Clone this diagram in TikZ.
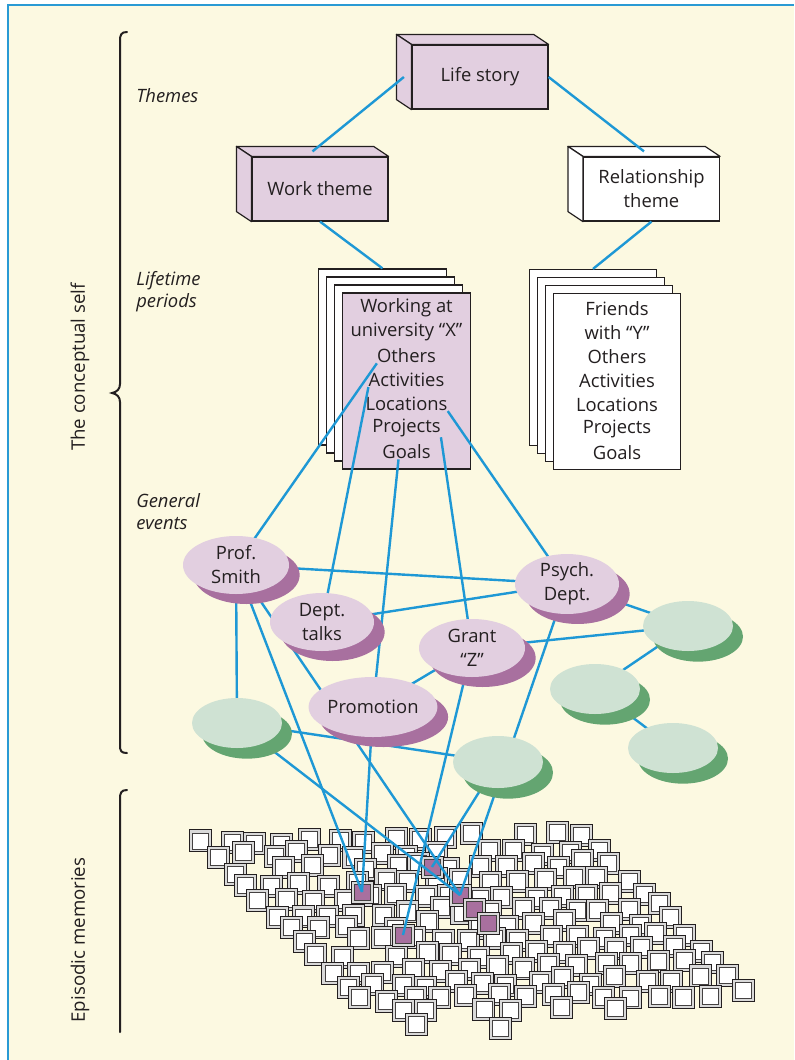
\documentclass[tikz,border=0pt]{standalone}
\usepackage{fontspec}
\setmainfont{Open Sans}
\usetikzlibrary{shapes.geometric,shadows,calc}

\definecolor{cream}{HTML}{FCF9E1}
\definecolor{framec}{HTML}{2A9AD4}
\definecolor{linkc}{HTML}{1E98D5}
\definecolor{mauve}{HTML}{E2CFE0}
\definecolor{plum}{HTML}{A8709F}
\definecolor{mint}{HTML}{CFE2D3}
\definecolor{leaf}{HTML}{64A571}
\definecolor{ink}{HTML}{231F20}

\pgfdeclarelayer{under}
\pgfdeclarelayer{wires}
\pgfsetlayers{under,wires,main}

\begin{document}
\begin{tikzpicture}[x=0.75pt, y=-0.75pt,
  font=\fontsize{13.8}{18}\selectfont, text=ink,
  themebox/.style={draw=ink, line width=0.9pt, minimum width=102pt, minimum height=48pt,
    inner sep=0pt, align=center},
  face/.style={draw=ink, line width=0.9pt, line join=round},
  sheet/.style={draw=ink, line width=0.9pt, fill=white, minimum width=95.5pt,
    minimum height=132pt, inner sep=0pt},
  word/.style={inner sep=0pt},
  event/.style={ellipse, fill=mauve, inner sep=0pt, minimum width=79.5pt,
    minimum height=43.5pt, align=center,
    general shadow={fill=plum, shadow xshift=8pt, shadow yshift=-7.5pt}},
  blank/.style={ellipse, fill=mint, inner sep=0pt, minimum width=67.5pt,
    minimum height=37.5pt,
    general shadow={fill=leaf, shadow xshift=7.5pt, shadow yshift=-8pt}},
  wire/.style={draw=linkc, line width=1.8pt},
  brace/.style={draw=ink, line width=1.5pt, line cap=round},
  level/.style={font=\fontsize{13.8}{16.5}\selectfont\itshape, anchor=west,
    inner sep=0pt, align=left},
  sidelabel/.style={font=\fontsize{14}{18}\selectfont, rotate=90, inner sep=0pt},
  cell/.style={fill=black!15, draw=ink, line width=0.55pt},
  cellin/.style={fill=white, draw=ink!85, line width=0.45pt},
  hot/.style={rectangle, draw=ink, line width=0.55pt, fill=black!15,
    minimum size=16.5pt, inner sep=0pt,
    path picture={\filldraw[fill=plum, draw=ink!85, line width=0.45pt]
      ([shift={(2.2pt,2.2pt)}]path picture bounding box.south west) rectangle
      ([shift={(-2.2pt,-2.2pt)}]path picture bounding box.north east);}}
]
\useasboundingbox (0,0) rectangle (794,1060);

\begin{pgfonlayer}{under}
  % page and frame
  \fill[white] (0,0) rectangle (794,1060);
  \fill[cream] (8,5) rectangle (794,1060);
  \draw[framec, line width=1.9pt] (8,1060) -- (8,5) -- (794,5);

  % braces on the left
  \draw[brace] (127,32) .. controls (121,32) and (120,35) .. (120,41)
    -- (120,384) .. controls (120,389) and (117,392) .. (112,393)
    .. controls (117,394) and (120,397) .. (120,402)
    -- (120,745) .. controls (120,751) and (121,753) .. (127,753);
  \draw[brace] (127,790) .. controls (121,790) and (120,793) .. (120,799)
    -- (120,1032);

  \node[sidelabel] (cself) at (80,367) {The conceptual self};
  \node[sidelabel] (epis) at (80,940) {Episodic memories};

  \node[level] (themes) at (136,96) {Themes};
  \node[level] (periods) at (136,292) {Lifetime\\periods};
  \node[level] (general) at (136,511.5) {General\\events};

  % field of episodic memory cells, laid out in diagonal chains
  \pgfmathsetseed{17}
  \foreach \i in {0,...,13} {
    \foreach \k in {0,...,14} {
      \pgfmathtruncatemacro\len{{12,14,13,12,14,13,12,13,12,13,12,12,13,12,12}[\k]}
      \pgfmathsetmacro\skip{(\k==0 || \k==14) ? 1 : rnd}
      \pgfmathsetmacro\px{192 + 27.2*\k + 14.3*\i + 4*rand}
      \pgfmathsetmacro\py{831 - 0.5*\k + 14.3*\i + 4*rand}
      \ifnum\i<\len
        \ifdim\skip pt>0.08pt
          \filldraw[cell] (\px,\py) rectangle ++(22,22);
          \filldraw[cellin] (\px+3,\py+3) rectangle ++(16,16);
        \fi
      \fi
    }
  }

  % activated memories
  \node[hot] (m1) at (362,892) {};
  \node[hot] (m2) at (403,935) {};
  \node[hot] (m3) at (432,867) {};
  \node[hot] (m4) at (460,895) {};
  \node[hot] (m5) at (474,909) {};
  \node[hot] (m6) at (488,923) {};

  % lifetime period stacks
  \node[sheet] (s1) at (382.5,357) {};
  \node[sheet] (s2) at (390.5,365) {};
  \node[sheet] (s3) at (398.5,373) {};
  \node[sheet, fill=mauve] (s4) at (406.5,381) {};
  \foreach \t [count=\j] in {Working at, university “X”, Others, Activities, Locations, Projects, Goals}
    \node[word] (lw\j) at (406.5,284+24*\j) {\t};

  \node[sheet] (r1) at (593,357.5) {};
  \node[sheet] (r2) at (601,365.5) {};
  \node[sheet] (r3) at (609,373.5) {};
  \node[sheet] (r4) at (617,381.5) {};
  \foreach \t [count=\j] in {Friends, with “Y”, Others, Activities, Locations, Projects, Goals}
    \node[word] (rw\j) at (617,285+24*\j) {\t};
\end{pgfonlayer}

% general events
\node[event] (smith) at (236,565) {Prof.\\Smith};
\node[event, minimum width=78pt] (talks) at (322,622) {Dept.\\talks};
\node[event, minimum width=78pt] (psych) at (567,584) {Psych.\\Dept.};
\node[event] (grant) at (472,648) {Grant\\“Z”};
\node[event, minimum width=82.5pt, minimum height=45pt] (promo) at (373,707) {Promotion};
\node[blank] (g1) at (688,626) {};
\node[blank] (g2) at (595,689) {};
\node[blank] (g3) at (673,748) {};
\node[blank, minimum height=39pt] (g4) at (498,762) {};
\node[blank] (g5) at (237,723) {};

% themes
\node[themebox, fill=mauve] (life) at (480,77) {Life story};
\node[themebox, fill=mauve] (work) at (320,189) {Work theme};
\node[themebox, fill=white] (rel) at (651.5,189) {Relationship\\theme};
\foreach \b/\c in {life/mauve, work/mauve, rel/white} {
  \filldraw[face, fill=\c] (\b.north west) -- ++(-15,-10)
    -- ($(\b.north east)+(-15,-10)$) -- (\b.north east) -- cycle;
  \filldraw[face, fill=\c] (\b.north west) -- ++(-15,-10)
    -- ($(\b.south west)+(-15,-10)$) -- (\b.south west) -- cycle;
}

% links between themes and periods
\draw[wire] ($(life.west)+(-7.5,0)$) -- ($(work.north)+(-7.5,-5)$);
\draw[wire] (life.east) -- ($(rel.north)+(-7.5,-5)$);
\draw[wire] (work.south) -- (s1.north);
\draw[wire] (rel.south) -- (r1.north);

\begin{pgfonlayer}{wires}
  % period to events
  \draw[wire] (lw3.south west) -- (smith.center);
  \draw[wire] (lw4.south west) -- (talks.center);
  \draw[wire] ([xshift=-6pt]lw7.south) -- (promo.center);
  \draw[wire] (lw6.south east) -- (grant.center);
  \draw[wire] (lw5.south east) -- (psych.center);
  % events to events
  \draw[wire] (smith.center) -- (psych.center);
  \draw[wire] (talks.center) -- (psych.center);
  \draw[wire] (smith.center) -- (g5.center);
  \draw[wire] (promo.center) -- (grant.center);
  \draw[wire] (grant.center) -- (g1.center);
  \draw[wire] (psych.center) -- (g1.center);
  \draw[wire] (g1.center) -- (g2.center);
  \draw[wire] (g2.center) -- (g3.center);
  \draw[wire] (g5.center) -- (g4.center);
  % events to episodic memories
  \draw[wire] (smith.center) -- (m1.center);
  \draw[wire] (smith.center) -- (m4.center);
  \draw[wire] (promo.center) -- (m1.center);
  \draw[wire] (grant.center) -- (m2.center);
  \draw[wire] (psych.center) -- (m4.center);
  \draw[wire] (g5.center) -- (m4.center);
  \draw[wire] (g4.center) -- (m3.center);
\end{pgfonlayer}
\end{tikzpicture}
\end{document}
